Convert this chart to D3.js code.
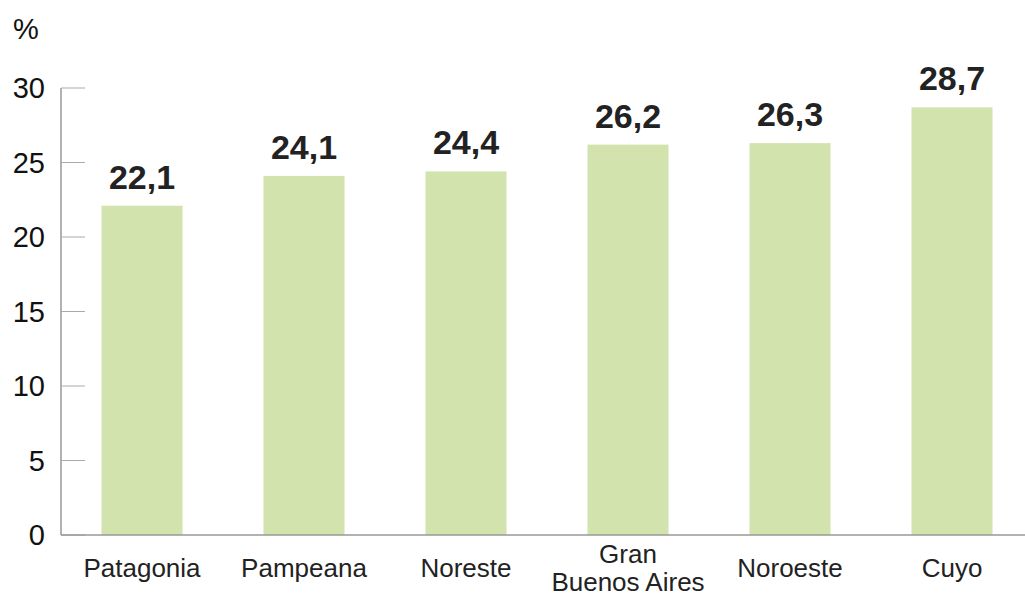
<!DOCTYPE html>
<html>
<head>
<meta charset="utf-8">
<script src="https://cdn.jsdelivr.net/npm/d3@7"></script>
<style>
html,body{margin:0;padding:0;background:#fff;}
svg{display:block;font-family:"Liberation Sans",Arial,Helvetica,sans-serif;}
</style>
</head>
<body>
<svg id="chart" width="1025" height="598"></svg>
<script>
const categories = ["Patagonia", "Pampeana", "Noreste", "Gran\nBuenos Aires", "Noroeste", "Cuyo"];
const values = [22.1, 24.1, 24.4, 26.2, 26.3, 28.7];
const yTicks = [0, 5, 10, 15, 20, 25, 30];
const unitLabel = "%";

const svg = d3.select("#chart");
const x0 = 61, xEnd = 1033, yTop = 88, yBottom = 535;

const x = d3.scaleBand().domain(categories).range([x0, xEnd]).paddingInner(0.5).paddingOuter(0.25);
const y = d3.scaleLinear().domain([0, 30]).range([yBottom, yTop]);

// y axis line
svg.append("line").attr("x1", x0).attr("x2", x0).attr("y1", y(30)).attr("y2", y(0))
  .attr("stroke", "#999").attr("stroke-width", 1.5);
// ticks (inside)
svg.selectAll(".ytick").data(yTicks).enter().append("line")
  .attr("x1", x0).attr("x2", 85).attr("y1", d => y(d)).attr("y2", d => y(d))
  .attr("stroke", "#aaa").attr("stroke-width", 1);
svg.selectAll(".ylab").data(yTicks).enter().append("text")
  .attr("x", 45).attr("y", d => y(d)).attr("dy", "0.36em")
  .attr("text-anchor", "end").attr("font-size", 29).attr("fill", "#111")
  .text(d => d);
svg.append("text").attr("x", 13).attr("y", 39).attr("font-size", 29).attr("fill", "#111").text(unitLabel);

// bars
svg.selectAll(".bar").data(values).enter().append("rect")
  .attr("x", (d, i) => x(categories[i])).attr("width", x.bandwidth())
  .attr("y", d => y(d)).attr("height", d => y(0) - y(d))
  .attr("fill", "#d2e3ad");

// x axis line
svg.append("line").attr("x1", x0).attr("x2", 1025).attr("y1", y(0)).attr("y2", y(0))
  .attr("stroke", "#999").attr("stroke-width", 1.5);

// value labels
svg.selectAll(".val").data(values).enter().append("text")
  .attr("x", (d, i) => x(categories[i]) + x.bandwidth() / 2)
  .attr("y", d => y(d) - 17)
  .attr("text-anchor", "middle").attr("font-size", 34).attr("font-weight", "bold").attr("fill", "#222")
  .text(d => d.toFixed(1).replace(".", ","));

// category labels
categories.forEach((c, i) => {
  const lines = c.split("\n");
  const cx = x(c) + x.bandwidth() / 2;
  const t = svg.append("text").attr("text-anchor", "middle").attr("font-size", 26).attr("fill", "#222");
  const base = lines.length === 1 ? 577 : 563;
  lines.forEach((l, j) => {
    t.append("tspan").attr("x", cx).attr("y", base + j * 28).text(l);
  });
});
</script>
</body>
</html>
